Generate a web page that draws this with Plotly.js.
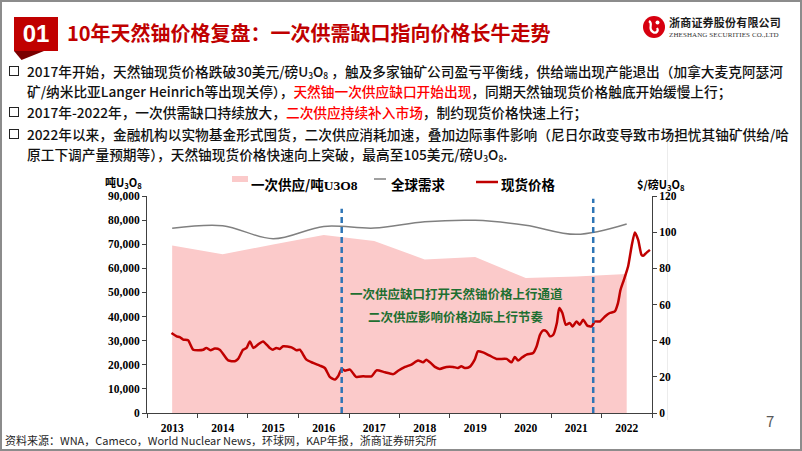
<!DOCTYPE html>
<html><head><meta charset="utf-8">
<script src="https://cdn.plot.ly/plotly-3.0.1.min.js"></script>
<style>
html,body{margin:0;padding:0;}
body{width:802px;height:451px;overflow:hidden;background:#fff;position:relative;font-family:"Noto Sans CJK SC","Noto Sans",sans-serif;}
#frame{position:absolute;left:0;top:0;width:802px;height:451px;box-sizing:border-box;border:2px solid #8c8c8c;pointer-events:none;z-index:10;}
#chart{position:absolute;left:0;top:0;width:802px;height:451px;z-index:1;}
.abs{position:absolute;white-space:nowrap;z-index:5;}
#numbox{left:14px;top:17px;width:44px;height:34px;background:#C00000;color:#fff;font:bold 24px "Liberation Sans",Arial,sans-serif;line-height:34px;text-align:center;}
#fold{left:14px;top:51px;width:30px;height:9px;background:#7a0000;clip-path:polygon(0 0,100% 0,25% 100%);}
#title{left:67px;top:20px;font-size:20px;font-weight:bold;color:#C00000;line-height:26px;}
#logoName{left:669px;top:14px;font-size:11px;font-weight:bold;color:#1a1a1a;line-height:16px;letter-spacing:0.2px;}
#logoEn{left:669px;top:31px;font:7px "Liberation Serif",serif;color:#333;line-height:9px;letter-spacing:0.1px;}
.para{font-size:13.7px;font-weight:500;color:#111;line-height:20px;left:27px;}
.red{color:#FF0000;}
.box{position:absolute;left:9px;width:8px;height:8px;border:1.4px solid #222;z-index:5;}
sub{font-size:0.62em;vertical-align:-0.25em;line-height:0;}
#src{left:5px;top:434px;font-size:11px;color:#262626;line-height:13px;}
#page{left:766px;top:411px;font-size:15px;color:#595959;line-height:20px;}
#vline{left:667px;top:140px;width:1px;height:280px;background:#ececec;z-index:0;}
</style></head>
<body>
<div id="vline" class="abs"></div>
<div id="chart"></div>
<div id="frame"></div>
<div id="numbox" class="abs">01</div>
<div id="fold" class="abs"></div>
<div id="title" class="abs">10年天然铀价格复盘：一次供需缺口指向价格长牛走势</div>
<svg class="abs" style="left:642px;top:15px" width="24" height="24" viewBox="0 0 24 24">
  <circle cx="12" cy="12" r="11" fill="#D7000F"/>
  <path d="M7 6 C12 9, 5 13, 11 17 C14 19, 17 16, 15 13" stroke="#fff" stroke-width="2.2" fill="none"/>
  <circle cx="15.5" cy="7.5" r="2" fill="#fff"/>
</svg>
<div id="logoName" class="abs">浙商证券股份有限公司</div>
<div id="logoEn" class="abs">ZHESHANG SECURITIES CO.,LTD</div>

<div class="box" style="top:66px"></div>
<div class="abs para" style="top:61px">2017年开始，天然铀现货价格跌破30美元/磅U<sub>3</sub>O<sub>8</sub> ，触及多家铀矿公司盈亏平衡线，供给端出现产能退出（加拿大麦克阿瑟河</div>
<div class="abs para" style="top:81px">矿/纳米比亚Langer Heinrich等出现关停），<span class="red">天然铀一次供应缺口开始出现</span>，同期天然铀现货价格触底开始缓慢上行；</div>
<div class="box" style="top:107px"></div>
<div class="abs para" style="top:102px">2017年-2022年，一次供需缺口持续放大，<span class="red">二次供应持续补入市场</span>，制约现货价格快速上行；</div>
<div class="box" style="top:129px"></div>
<div class="abs para" style="top:124px">2022年以来，金融机构以实物基金形式囤货，二次供应消耗加速，叠加边际事件影响（尼日尔政变导致市场担忧其铀矿供给/哈</div>
<div class="abs para" style="top:144px">原工下调产量预期等），天然铀现货价格快速向上突破，最高至105美元/磅U<sub>3</sub>O<sub>8</sub>.</div>

<div id="src" class="abs">资料来源：WNA，Cameco，World Nuclear News，环球网，KAP年报，浙商证券研究所</div>
<div id="page" class="abs">7</div>

<script>
// Annual primary supply (t U3O8) and global demand (t U3O8)
const supplyYears = ['2013','2014','2015','2016','2017','2018','2019','2020','2021','2022'];
const supplyValues = [69500, 65800, 69900, 73850, 71300, 63700, 64650, 56000, 56600, 57700];
const demandValues = [76600, 77700, 72300, 77400, 76700, 79300, 79900, 77900, 74100, 78400];

// Spot price ($/lb U3O8)
const priceDates = ['2013-06-27','2013-08-03','2013-08-26','2013-09-20','2013-10-25','2013-12-01',
'2014-01-07','2014-02-12','2014-03-06','2014-04-05','2014-05-06','2014-06-11','2014-08-11','2014-09-28','2014-10-22','2014-11-27','2014-12-22',
'2015-01-15','2015-02-09','2015-03-14','2015-04-20','2015-06-08','2015-07-01','2015-07-25','2015-08-19','2015-09-13','2015-11-12','2015-12-18',
'2016-01-11','2016-02-28','2016-04-16','2016-06-04','2016-07-10','2016-08-15','2016-09-21','2016-10-14','2016-11-09','2016-12-02',
'2017-01-08','2017-02-21','2017-04-13','2017-06-13','2017-07-19','2017-09-18','2017-11-17','2017-12-22',
'2018-02-10','2018-03-28','2018-05-15','2018-06-20','2018-07-14','2018-08-20','2018-09-14','2018-10-19','2018-12-07',
'2019-01-24','2019-02-28','2019-03-24','2019-04-18','2019-05-23','2019-06-29','2019-07-22','2019-08-28','2019-10-16','2019-12-04',
'2020-02-15','2020-03-21','2020-04-14','2020-05-08','2020-06-02','2020-07-08','2020-08-25','2020-09-19','2020-10-13','2020-11-06','2020-11-30','2020-12-24',
'2021-01-17','2021-02-12','2021-03-01','2021-03-24','2021-04-18','2021-05-16','2021-06-06','2021-07-04','2021-07-28','2021-08-21','2021-09-20','2021-10-21','2021-11-14','2021-12-20',
'2022-01-26','2022-03-01','2022-04-07','2022-04-30','2022-05-18','2022-06-11','2022-07-12','2022-08-06','2022-08-30','2022-09-23','2022-10-17','2022-10-29','2022-11-23','2022-12-17'];
const priceValues = [44.2,42.4,42.0,40.6,40.2,35.0,
34.7,35.0,36.0,34.7,35.6,35.0,29.1,28.6,29.9,35.0,36.0,
39.6,36.0,37.8,39.6,36.0,35.0,36.0,35.4,36.9,36.3,34.7,
35.0,29.5,27.7,26.2,24.9,20.0,18.5,20.3,24.4,23.4,
24.0,20.0,20.3,20.3,23.6,22.5,21.5,23.4,
25.5,26.8,29.1,28.0,29.5,27.3,25.5,24.4,25.5,
25.5,24.9,25.8,24.9,25.5,29.5,34.1,33.5,31.7,29.9,
29.9,28.0,31.0,29.0,30.5,32.3,33.2,36.9,43.3,45.7,45.1,42.4,
43.3,49.8,58.0,55.3,48.8,49.8,47.9,50.6,48.8,51.6,48.3,47.9,50.6,50.6,
53.4,55.3,56.2,60.8,68.0,73.5,81.0,92.0,99.8,95.7,87.5,86.9,88.7,90.2];

// Event markers (dashed lines), heights in $/lb axis units
const eventDates = ['2016-11-09','2021-11-02'];
const eventTops = [113, 118.5];

const legendNames = ['一次供应/吨U3O8','全球需求','现货价格'];
const noteTexts = ['一次供应缺口打开天然铀价格上行通道','二次供应影响价格边际上行节奏'];

const midYear = supplyYears.map(y => y + '-07-02');
const serif = '"Liberation Serif","Times New Roman",serif';
const cjk = '"Noto Sans CJK SC","Noto Sans",sans-serif';

const traces = [
  {x: midYear, y: supplyValues, type:'scatter', mode:'lines', fill:'tozeroy',
   fillcolor:'#FBCACA', line:{width:0, color:'rgba(0,0,0,0)'}, name: legendNames[0], hoverinfo:'skip'},
  {x: midYear, y: demandValues, type:'scatter', mode:'lines',
   line:{color:'#808080', width:1.5, shape:'spline', smoothing:1}, name: legendNames[1]},
  {x: priceDates, y: priceValues, type:'scatter', mode:'lines', yaxis:'y2',
   line:{color:'#C00000', width:2.5, shape:'spline', smoothing:0.6}, name: legendNames[2]}
];
eventDates.forEach((d,i) => traces.push({
  x:[d,d], y:[0, eventTops[i]], type:'scatter', mode:'lines', yaxis:'y2',
  line:{color:'#2E75B6', width:2.5, dash:'6px,4px'}, showlegend:false, hoverinfo:'skip'}));

// pixel -> paper helpers (plot area: x 147..652, y 196..413)
const PX = p => (p - 147) / 505;
const PY = p => (413 - p) / 217;

const legendLabel0 = legendNames[0].replace('U3O8', '<span style="font-family:' + "'Liberation Serif'" + '">U3O8</span>');

const tickFont = {family: serif, size: 11.5, color:'#000', weight:'bold'};
const layout = {
  width: 802, height: 451,
  margin: {l:147, r:150, t:196, b:38, pad:0},
  paper_bgcolor:'rgba(0,0,0,0)', plot_bgcolor:'rgba(0,0,0,0)',
  showlegend:false,
  xaxis: {type:'date', range:['2013-01-01','2023-01-01'], dtick:'M12', tick0:'2013-01-01',
    ticklabelmode:'period', tickformat:'%Y', ticks:'outside', ticklen:4, tickcolor:'#404040',
    showline:true, linecolor:'#404040', linewidth:1, showgrid:false, zeroline:false,
    tickfont: {family: serif, size: 11.5, color:'#000', weight:'bold'}, fixedrange:true},
  yaxis: {range:[0,90000], dtick:10000, tickformat:',', ticks:'outside', ticklen:4, tickcolor:'#404040',
    showline:true, linecolor:'#404040', linewidth:1, showgrid:false, zeroline:false, tickfont: tickFont, fixedrange:true},
  yaxis2: {range:[0,120], dtick:20, overlaying:'y', side:'right', ticks:'outside', ticklen:4, tickcolor:'#404040',
    showline:true, linecolor:'#404040', linewidth:1, showgrid:false, zeroline:false, tickfont: tickFont, fixedrange:true},
  shapes: [
    {type:'rect', xref:'paper', yref:'paper', x0:PX(232), x1:PX(248), y0:PY(182), y1:PY(176), fillcolor:'#FBCACA', line:{width:0}},
    {type:'line', xref:'paper', yref:'paper', x0:PX(374), x1:PX(386), y0:PY(179), y1:PY(179), line:{color:'#808080', width:1.5}},
    {type:'line', xref:'paper', yref:'paper', x0:PX(476), x1:PX(498), y0:PY(182), y1:PY(182), line:{color:'#C00000', width:2.5}}
  ],
  annotations: [
    {xref:'paper', yref:'paper', x:PX(249), y:PY(183.5), xanchor:'left', yanchor:'middle', showarrow:false,
     text: legendLabel0, font:{family: cjk, size:13.5, color:'#000', weight:'bold'}},
    {xref:'paper', yref:'paper', x:PX(389), y:PY(183.5), xanchor:'left', yanchor:'middle', showarrow:false,
     text: legendNames[1], font:{family: cjk, size:13.5, color:'#000', weight:'bold'}},
    {xref:'paper', yref:'paper', x:PX(499), y:PY(183.5), xanchor:'left', yanchor:'middle', showarrow:false,
     text: legendNames[2], font:{family: cjk, size:13.5, color:'#000', weight:'bold'}},
    {xref:'paper', yref:'paper', x:PX(123), y:PY(183), xanchor:'center', yanchor:'middle', showarrow:false,
     text:'吨U<sub>3</sub>O<sub>8</sub>', font:{family: cjk, size:11, color:'#000', weight:'bold'}},
    {xref:'paper', yref:'paper', x:PX(661), y:PY(184), xanchor:'center', yanchor:'middle', showarrow:false,
     text:'$/磅U<sub>3</sub>O<sub>8</sub>', font:{family: cjk, size:11, color:'#000', weight:'bold'}},
    {xref:'paper', yref:'paper', x:PX(456), y:PY(293), xanchor:'center', yanchor:'middle', showarrow:false,
     text: noteTexts[0], font:{family: cjk, size:12.5, color:'#1E6F31', weight:'bold'}},
    {xref:'paper', yref:'paper', x:PX(456), y:PY(316), xanchor:'center', yanchor:'middle', showarrow:false,
     text: noteTexts[1], font:{family: cjk, size:12.5, color:'#1E6F31', weight:'bold'}}
  ]
};
Plotly.newPlot('chart', traces, layout, {displayModeBar:false, staticPlot:true});
</script>
</body></html>
